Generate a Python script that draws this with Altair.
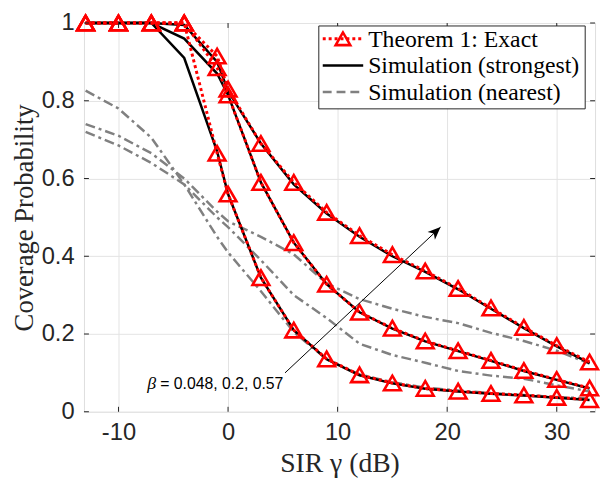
import math
import altair as alt
import pandas as pd

# ---------------- data ----------------
x_db = [-13, -10, -7, -4, -1, 0, 3, 6, 9, 12, 15, 18, 21, 24, 27, 30, 33]

exact_b057 = [1, 1, 1, 1, 0.915, 0.83, 0.69, 0.59, 0.513, 0.453, 0.404, 0.362, 0.317, 0.267, 0.217, 0.170, 0.128]
exact_b02 = [1, 1, 1, 1, 0.885, 0.815, 0.59, 0.435, 0.328, 0.256, 0.215, 0.182, 0.157, 0.132, 0.106, 0.083, 0.061]
exact_b0048 = [1, 1, 1, 1, 0.665, 0.56, 0.345, 0.21, 0.136, 0.095, 0.074, 0.060, 0.053, 0.047, 0.043, 0.037, 0.031]

strong_b057 = [1, 1, 1, 0.995, 0.90, 0.825, 0.69, 0.585, 0.51, 0.45, 0.40, 0.36, 0.315, 0.265, 0.215, 0.168, 0.125]
strong_b02 = [1, 1, 1, 0.96, 0.87, 0.815, 0.59, 0.435, 0.328, 0.256, 0.214, 0.181, 0.156, 0.131, 0.105, 0.082, 0.060]
strong_b0048 = [1, 1, 1, 0.91, 0.67, 0.56, 0.345, 0.21, 0.135, 0.094, 0.073, 0.059, 0.052, 0.046, 0.042, 0.036, 0.030]

nearest_a = [0.74, 0.71, 0.665, 0.60, 0.515, 0.49, 0.45, 0.405, 0.33, 0.29, 0.265, 0.244, 0.228, 0.203, 0.182, 0.157, 0.124]
nearest_b = [0.72, 0.685, 0.64, 0.585, 0.50, 0.475, 0.39, 0.30, 0.241, 0.175, 0.146, 0.126, 0.105, 0.093, 0.085, 0.068, 0.052]
nearest_c = [0.826, 0.78, 0.705, 0.585, 0.45, 0.41, 0.31, 0.205, 0.135, 0.096, 0.076, 0.062, 0.055, 0.048, 0.043, 0.038, 0.034]

x_ticks = [-10, 0, 10, 20, 30]
y_ticks = [0, 0.2, 0.4, 0.6, 0.8, 1]
x_domain = [-13.15, 33.5]
y_domain = [0, 1]

legend_labels = ["Theorem 1: Exact", "Simulation (strongest)", "Simulation (nearest)"]
x_title = "SIR \u03b3 (dB)"
y_title = "Coverage Probability"

arrow_start = (5.2, 0.10)
arrow_end = (19.4, 0.475)
note_pos = (5.05, 0.072)
note_beta = "\u03b2"
note_text = "= 0.048, 0.2, 0.57"

# ---------------- styling ----------------
W, H = 518, 394
AX = "#262626"
RED = "#ff0000"
GRAY = "#808080"
SERIF = "Liberation Serif"
SANS = "Liberation Sans"
GRAY_DASH = [10, 4, 3, 4]
RED_DOT = [3, 3]

rows = []
for kind, series in [
    ("exact", {"0.57": exact_b057, "0.2": exact_b02, "0.048": exact_b0048}),
    ("strong", {"0.57": strong_b057, "0.2": strong_b02, "0.048": strong_b0048}),
    ("nearest", {"a": nearest_a, "b": nearest_b, "c": nearest_c}),
]:
    for name, vals in series.items():
        for xv, yv in zip(x_db, vals):
            rows.append({"kind": kind, "series": name, "x": xv, "y": yv})
df = pd.DataFrame(rows)

xs = alt.Scale(domain=x_domain, nice=False, zero=False)
ys = alt.Scale(domain=y_domain, nice=False, zero=False)

x_axis = alt.Axis(
    values=x_ticks, labelExpr="'' + datum.value", title=x_title,
    grid=True, gridColor="#e3e3e3", gridWidth=1, ticks=False, domain=False,
    labelFont=SANS, labelFontSize=24, labelColor=AX, labelPadding=9,
    titleFont=SERIF, titleFontSize=28, titleFontWeight="normal", titleColor=AX,
    titlePadding=6,
)
y_axis = alt.Axis(
    values=y_ticks, labelExpr="'' + datum.value", title=y_title,
    grid=True, gridColor="#e3e3e3", gridWidth=1, ticks=False, domain=False,
    labelFont=SANS, labelFontSize=24, labelColor=AX, labelPadding=10,
    titleFont=SERIF, titleFontSize=27, titleFontWeight="normal", titleColor=AX,
    titlePadding=3,
)

X = alt.X("x:Q", scale=xs, axis=x_axis)
Y = alt.Y("y:Q", scale=ys, axis=y_axis)

base = alt.Chart(df).encode(x=X, y=Y, detail="series:N")

gray = base.transform_filter(alt.datum.kind == "nearest").mark_line(
    color=GRAY, strokeWidth=2.5, strokeDash=GRAY_DASH)
black = base.transform_filter(alt.datum.kind == "strong").mark_line(
    color="black", strokeWidth=2.5)
red = base.transform_filter(alt.datum.kind == "exact").mark_line(
    color=RED, strokeWidth=3, strokeDash=RED_DOT)
tri = base.transform_filter(alt.datum.kind == "exact").mark_point(
    shape="triangle-up", filled=False, color=RED, size=290, strokeWidth=2.6, opacity=1)

# inward ticks (box style)
xt = pd.DataFrame({"x": x_ticks})
yt = pd.DataFrame({"y": y_ticks})
tick_b = alt.Chart(xt).mark_rule(color=AX, strokeWidth=1).encode(x=X, y=alt.value(H), y2=alt.value(H - 5))
tick_t = alt.Chart(xt).mark_rule(color=AX, strokeWidth=1).encode(x=X, y=alt.value(0), y2=alt.value(5))
tick_l = alt.Chart(yt).mark_rule(color=AX, strokeWidth=1).encode(y=Y, x=alt.value(0), x2=alt.value(5))
tick_r = alt.Chart(yt).mark_rule(color=AX, strokeWidth=1).encode(y=Y, x=alt.value(W), x2=alt.value(W - 5))

# annotation arrow
arr = pd.DataFrame({"x": [arrow_start[0]], "y": [arrow_start[1]],
                    "x2": [arrow_end[0]], "y2": [arrow_end[1]]})
arrow_line = alt.Chart(arr).mark_rule(color="black", strokeWidth=1).encode(
    x=X, y=Y, x2="x2:Q", y2="y2:Q")
ppx = W / (x_domain[1] - x_domain[0])
ppy = H / (y_domain[1] - y_domain[0])
ang = math.degrees(math.atan2((arrow_end[0] - arrow_start[0]) * ppx,
                              (arrow_end[1] - arrow_start[1]) * ppy))
head = pd.DataFrame({"x": [arrow_end[0]], "y": [arrow_end[1]]})
arrow_head = alt.Chart(head).mark_point(
    shape="M0,0L0.42,1L0,0.72L-0.42,1Z", filled=True, color="black",
    size=676, angle=ang, opacity=1, strokeWidth=0).encode(x=X, y=Y)

note = pd.DataFrame({"x": [note_pos[0]], "y": [note_pos[1]], "t": [note_text], "b": [note_beta]})
note_txt = alt.Chart(note).mark_text(
    align="right", baseline="middle", font=SANS, fontSize=16, color="black").encode(
    x=X, y=Y, text="t:N")
note_b = alt.Chart(note).mark_text(
    align="right", baseline="middle", font=SERIF, fontStyle="italic", fontSize=18,
    color="black", dx=-129).encode(x=X, y=Y, text="b:N")

# legend (drawn manually, MATLAB style); positions relative to plot origin
one = pd.DataFrame({"k": [0]})
LX0, LX1, LY0, LY1 = 238, 508, 3, 87
row_y = [16, 43, 70]
sx0, sx1, tx = 242, 283, 288
leg_box = alt.Chart(one).mark_rect(fill="white", stroke=AX, strokeWidth=1).encode(
    x=alt.value(LX0), x2=alt.value(LX1), y=alt.value(LY0), y2=alt.value(LY1))
leg_layers = [leg_box]
styles = [
    dict(color=RED, strokeWidth=3, strokeDash=RED_DOT),
    dict(color="black", strokeWidth=2.5),
    dict(color=GRAY, strokeWidth=2.5, strokeDash=[9, 5]),
]
for lab, ry, st in zip(legend_labels, row_y, styles):
    leg_layers.append(alt.Chart(one).mark_rule(**st).encode(
        x=alt.value(sx0), x2=alt.value(sx1), y=alt.value(ry)))
    leg_layers.append(alt.Chart(pd.DataFrame({"t": [lab]})).mark_text(
        align="left", baseline="middle", font=SERIF, fontSize=24, color="black").encode(
        x=alt.value(tx), y=alt.value(ry + 1), text="t:N"))
leg_layers.append(alt.Chart(one).mark_point(
    shape="triangle-up", filled=False, color=RED, size=220, strokeWidth=2.6, opacity=1).encode(
    x=alt.value((sx0 + sx1) / 2), y=alt.value(row_y[0])))

chart = alt.layer(
    gray, black, red, tri, tick_b, tick_t, tick_l, tick_r,
    arrow_line, arrow_head, note_txt, note_b, *leg_layers
).properties(
    width=W, height=H,
    padding={"left": 77, "top": 12, "right": 5, "bottom": 70},
    autosize=alt.AutoSizeParams(type="none"),
).configure_view(stroke=AX, strokeWidth=1).configure(background="white")

chart.save("out.html", embed_options={"renderer": "svg", "actions": False})
